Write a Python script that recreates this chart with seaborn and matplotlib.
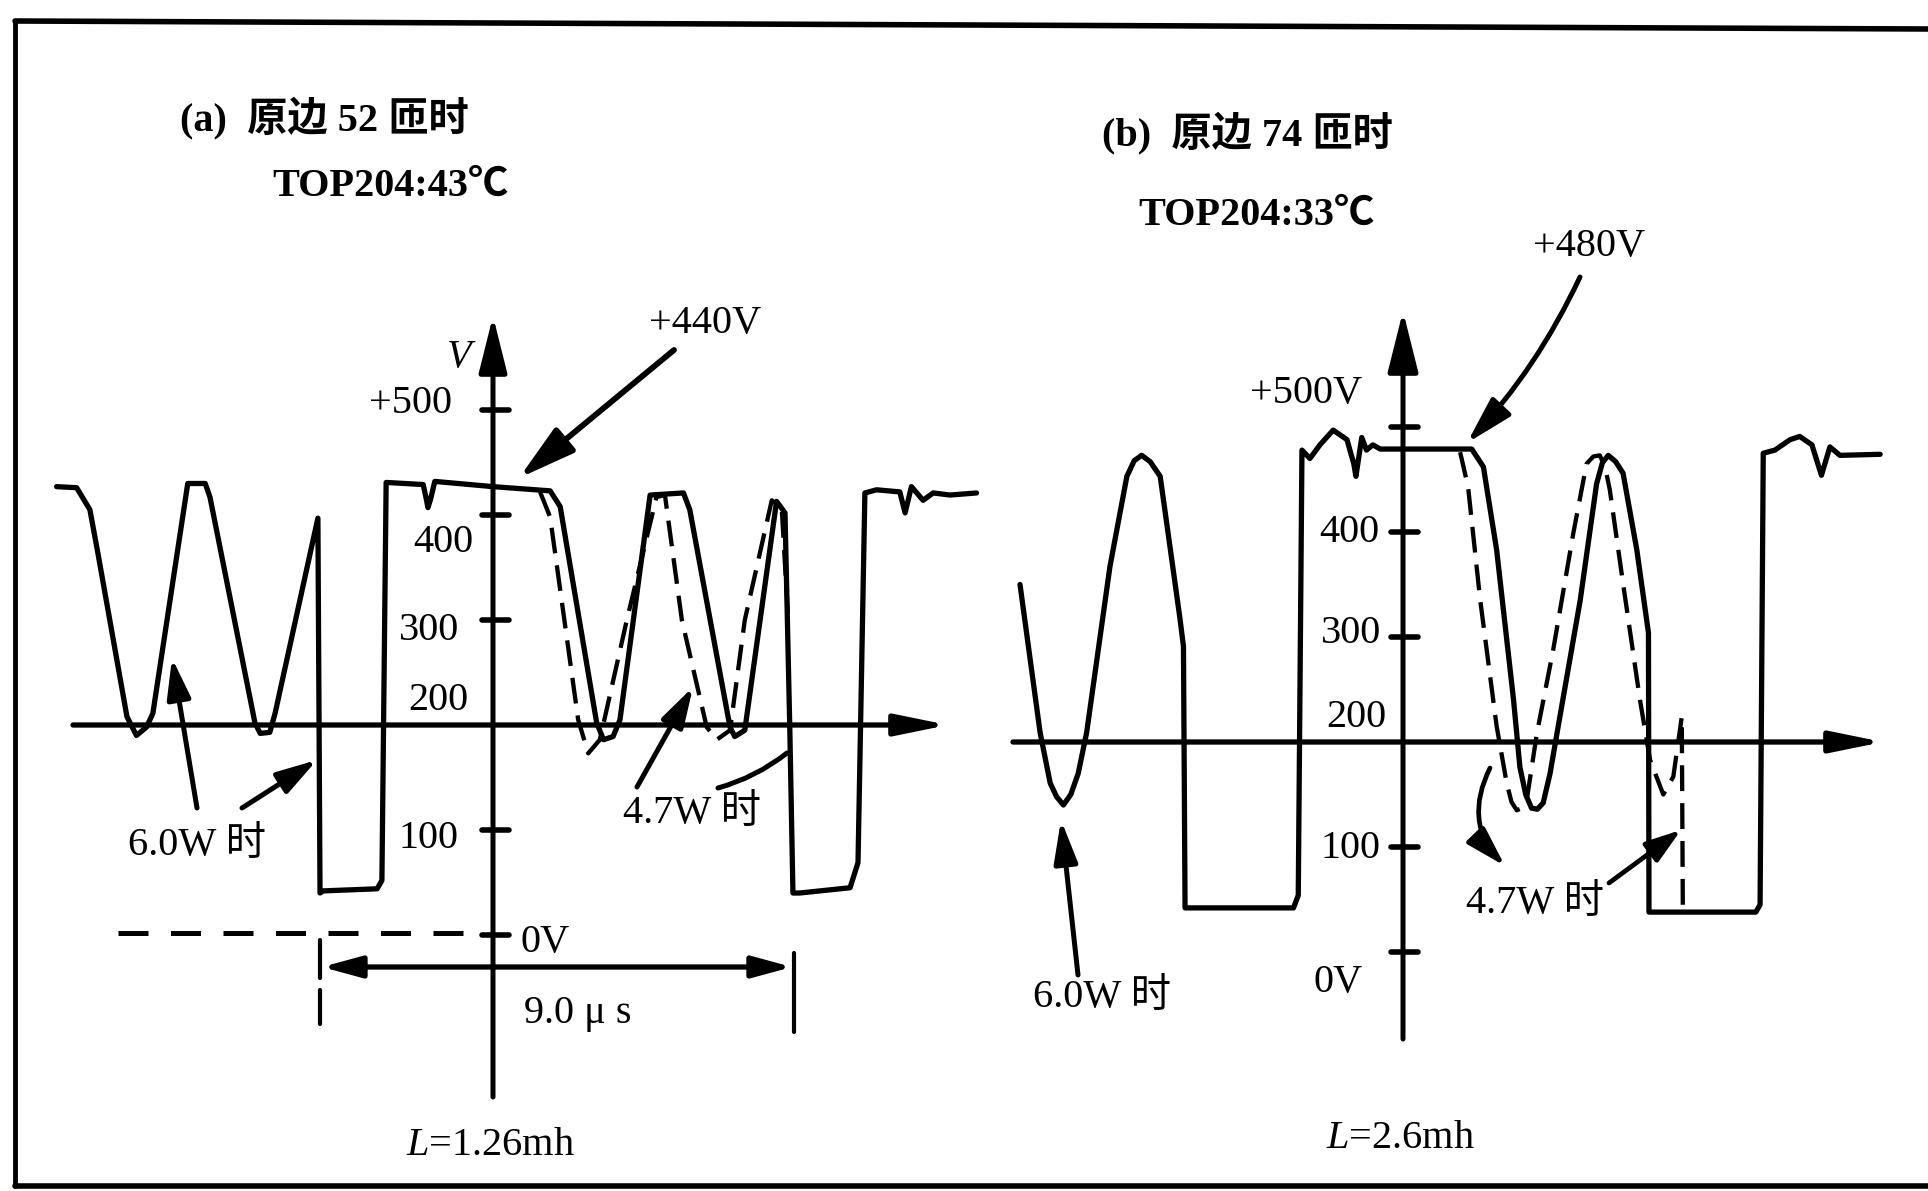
import matplotlib
matplotlib.use("Agg")
import matplotlib.pyplot as plt
import numpy as np
import pandas as pd
import seaborn as sns

# ---------------- data ----------------
# panel (a): primary 52 turns, L = 1.26 mH   (time in us, voltage in V)
a_solid_t = [-8.25, -7.87, -7.62, -7.47, -6.92, -6.74, -6.55, -6.43, -5.77, -5.44, -5.35, -4.50, -4.40, -4.22,
             -4.12, -3.31, -3.27, -3.21, -2.19, -2.10, -2.02, -1.32, -1.26, -1.23, -1.18, -1.10, 0.00, 1.08,
             1.27, 1.96, 2.09, 2.27, 2.40, 2.97, 3.60, 3.72, 4.48, 4.57, 4.76, 5.11, 5.36, 5.52, 5.61, 5.67,
             5.80, 6.75, 6.90, 7.03, 7.25, 7.69, 7.79, 7.91, 8.13, 8.32, 8.64, 9.14]
a_solid_v = [427, 426, 405, 364, 208, 190, 198, 211, 430, 430, 417, 202, 192, 193,
             211, 397, 40, 42, 44, 52, 431, 429, 415, 407, 415, 432, 427, 423,
             408, 202, 186, 189, 205, 419, 421, 405, 198, 189, 195, 322, 413, 402, 198, 40,
             40, 45, 69, 421, 424, 422, 402, 427, 414, 421, 419, 421]
a_dash_t = [0.89, 1.08, 1.61, 1.80, 2.02, 2.53, 3.09, 3.25, 3.57, 4.04, 4.23, 4.48, 4.76, 5.27, 5.46, 5.58]
a_dash_v = [422, 398, 205, 173, 186, 300, 417, 419, 300, 198, 186, 195, 300, 414, 405, 300]

# panel (b): primary 74 turns, L = 2.6 mH
b_solid_t = [-7.24, -6.86, -6.67, -6.55, -6.42, -6.28, -6.14, -5.98, -5.54, -5.22, -5.08, -4.94, -4.78,
             -4.59, -4.22, -4.15, -4.12,
             -2.07, -1.98, -1.91, -1.76, -1.57, -1.32, -1.06, -0.93, -0.89, -0.78, -0.69, -0.57, -0.43,
             1.30, 1.52, 1.77, 2.09, 2.21, 2.32, 2.43, 2.54, 2.65, 2.78, 2.91, 3.35, 3.66, 3.77, 3.88,
             4.02, 4.16, 4.42, 4.64, 4.65,
             6.67, 6.75, 6.81, 7.03, 7.32, 7.50, 7.73, 7.91, 8.07, 8.26, 9.02]
b_solid_v = [350, 209, 161, 148, 140, 150, 170, 209, 367, 453, 468, 473, 467,
             453, 319, 291, 42,
             42, 54, 478, 470, 483, 497, 488, 465, 453, 490, 478, 483, 479,
             479, 462, 383, 240, 176, 150, 137, 136, 142, 170, 208, 335, 446, 466, 473,
             467, 456, 383, 304, 38,
             38, 45, 475, 478, 488, 491, 483, 454, 481, 473, 474]
b_dash_t = [1.08, 1.23, 1.46, 1.77, 1.96, 2.05, 2.15, 2.25, 2.34, 2.53, 2.84, 3.22, 3.47, 3.60, 3.72,
            3.82, 3.91, 4.16, 4.48, 4.67, 4.92, 5.11, 5.27, 5.29]
b_dash_v = [476, 443, 335, 215, 161, 143, 135, 137, 145, 208, 288, 399, 465, 472, 473,
            462, 440, 351, 240, 183, 150, 167, 224, 38]

tick_values = [500, 400, 300, 100, 0]
a_tick_labels = ["+500", "400", "300", "200", "100", "0V"]
b_tick_labels = ["+500V", "400", "300", "200", "100", "0V"]

# ---------------- style ----------------
sns.set_theme(style="white")
FAM = ["Liberation Serif", "Noto Sans CJK SC", "DejaVu Sans"]
plt.rcParams["font.family"] = FAM
plt.rcParams["mathtext.fontset"] = "custom"
plt.rcParams["mathtext.rm"] = "Liberation Serif"
plt.rcParams["mathtext.it"] = "Liberation Serif:italic"
FS = 29

W, H = 1928, 1191
PXT = 52.9      # pixels per microsecond
PXV = 1.05      # pixels per volt
fig = plt.figure(figsize=(W / 100, H / 100), dpi=100)
fig.patch.set_facecolor("white")

# pixel-space layer for decorations and text
axp = fig.add_axes([0, 0, 1, 1])
axp.set_xlim(0, W)
axp.set_ylim(H, 0)
axp.axis("off")


def panel_axes(x0, y0):
    ax = fig.add_axes([0, 0, 1, 1])
    ax.set_xlim(-x0 / PXT, (W - x0) / PXT)
    ax.set_ylim(200 - (H - y0) / PXV, 200 + y0 / PXV)
    ax.axis("off")
    ax.patch.set_alpha(0)
    return ax


A0 = (493, 725)    # pixel position of (t=0, 200 V) in panel a
B0 = (1403, 742)   # same for panel b
ax_a = panel_axes(*A0)
ax_b = panel_axes(*B0)

LW = 3.8
for ax, (st, sv, dt, dv) in [(ax_a, (a_solid_t, a_solid_v, a_dash_t, a_dash_v)),
                             (ax_b, (b_solid_t, b_solid_v, b_dash_t, b_dash_v))]:
    sns.lineplot(x=st, y=sv, ax=ax, sort=False, estimator=None, color="black",
                 lw=LW, solid_joinstyle="round", solid_capstyle="round")
    sns.lineplot(x=dt, y=dv, ax=ax, sort=False, estimator=None, color="black",
                 lw=3.1, linestyle=(0, (6, 2.8)))


def arrow(tail, tip, hl, hw, lw=3.4, rad=0.0, style="-|>"):
    axp.annotate("", xy=tip, xytext=tail,
                 arrowprops=dict(arrowstyle=f"{style},head_length={hl / 1.389:.2f},head_width={hw / 1.389:.2f}",
                                 mutation_scale=1, lw=lw, color="black", shrinkA=0, shrinkB=0,
                                 connectionstyle=f"arc3,rad={rad}"))


def vy(origin, v):
    return origin[1] - PXV * (v - 200)


# frame
axp.plot([15, 15], [21, 1186], color="black", lw=3.5)
axp.plot([15, W], [21, 29], color="black", lw=4)
axp.plot([15, W], [1186, 1186], color="black", lw=4)

# ---- panel a axes ----
arrow((73, A0[1]), (948, A0[1]), 44, 9, lw=3.8)
arrow((A0[0], 1097), (A0[0], 316), 48, 12, lw=3.6)
for v in tick_values:
    axp.plot([A0[0] - 11, A0[0] + 16], [vy(A0, v)] * 2, color="black", lw=4)

# ---- panel b axes ----
arrow((1013, B0[1]), (1883, B0[1]), 44, 9, lw=3.8)
arrow((B0[0], 1039), (B0[0], 311), 52, 13, lw=3.6)
for v in tick_values:
    axp.plot([B0[0] - 12, B0[0] + 15], [vy(B0, v)] * 2, color="black", lw=4)

# 0 V reference dashed line and 9.0 us dimension (panel a)
axp.plot([118, 483], [933, 933], color="black", lw=3.6, linestyle=(0, (6, 4.5)))
arrow((322, 967), (792, 967), 33, 9, lw=3.8, style="<|-|>")
axp.plot([320, 320], [940, 978], color="black", lw=3)
axp.plot([320, 320], [990, 1024], color="black", lw=3)
axp.plot([794, 794], [953, 1032], color="black", lw=3)

# annotation arrows panel a
arrow((674, 350), (519, 478), 48, 13, lw=4.2)          # +440V
arrow((197, 808), (172, 658), 34, 10, lw=3.6)          # 6.0W left
arrow((242, 808), (317, 760), 34, 10, lw=3.6)          # 6.0W right
arrow((637, 787), (693, 687), 34, 10, lw=3.6)          # 4.7W
axp.annotate("", xy=(787, 753), xytext=(718, 788),
             arrowprops=dict(arrowstyle="-", lw=3.6, color="black", shrinkA=0, shrinkB=0,
                             connectionstyle="arc3,rad=0.1"))

# annotation arrows panel b
arrow((1580, 277), (1467, 443), 40, 11, lw=3.6, rad=-0.08)   # +480V
arrow((1078, 975), (1061, 820), 36, 10, lw=3.6)              # 6.0W
arrow((1490, 768), (1505, 866), 34, 10, lw=3.4, rad=0.35)     # 4.7W curved
arrow((1609, 883), (1681, 830), 30, 10, lw=3.4)               # 4.7W

# ---------------- texts ----------------
def txt(x, y, s, ha="left", **kw):
    axp.text(x, y, s, ha=ha, va="baseline", fontsize=kw.pop("fs", FS), color="black", family=FAM, **kw)


txt(180, 130, "(a)  原边 52 匝时", fontweight="bold")
txt(272, 196, "TOP204:43℃", fontweight="bold")
txt(649, 333, "+440V")
txt(447, 367, "V", fontstyle="italic")
a_label_pos = [(452, 413, "right"), (473, 552, "right"), (459, 640, "right"),
               (468, 710, "right"), (458, 848, "right"), (521, 952, "left")]
for (x, y, ha), s in zip(a_label_pos, a_tick_labels):
    txt(x, y, s, ha=ha)
txt(524, 1023, "9.0 μ s")
txt(406, 1155, "$L$=1.26mh")
txt(128, 855, "6.0W 时")
txt(623, 823, "4.7W 时")

txt(1102, 145, "(b)  原边 74 匝时", fontweight="bold")
txt(1138, 225, "TOP204:33℃", fontweight="bold")
txt(1533, 256, "+480V")
b_label_pos = [(1362, 403, "right"), (1379, 542, "right"), (1381, 643, "right"),
               (1386, 727, "right"), (1381, 858, "right"), (1363, 992, "right")]
for (x, y, ha), s in zip(b_label_pos, b_tick_labels):
    txt(x, y, s, ha=ha)
txt(1326, 1148, "$L$=2.6mh")
txt(1033, 1007, "6.0W 时")
txt(1466, 913, "4.7W 时")

fig.savefig("out.png", dpi=100, facecolor="white")
